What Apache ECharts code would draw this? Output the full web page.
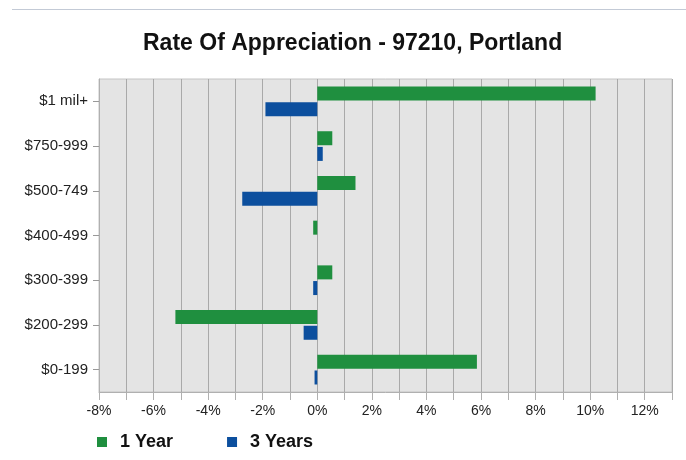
<!DOCTYPE html>
<html>
<head>
<meta charset="utf-8">
<script src="https://cdn.jsdelivr.net/npm/echarts@6/dist/echarts.min.js"></script>
<style>html,body{margin:0;padding:0;background:#fff}#c{width:686px;height:460px}</style>
</head>
<body>
<div id="c"></div>
<script>
var categories = ['$1 mil+', '$750-999', '$500-749', '$400-499', '$300-399', '$200-299', '$0-199'];
var oneYear = [10.2, 0.55, 1.4, -0.15, 0.55, -5.2, 5.85];
var threeYears = [-1.9, 0.2, -2.75, 0, -0.15, -0.5, -0.1];
var seriesNames = ['1 Year', '3 Years'];
var chart = echarts.init(document.getElementById('c'), null, {renderer: 'canvas'});
chart.setOption({
  animation: false,
  backgroundColor: '#ffffff',
  title: {
    text: 'Rate Of Appreciation - 97210, Portland',
    left: 138, top: 27,
    textStyle: {fontFamily: 'Arial, Liberation Sans', fontSize: 23, fontWeight: 'bold', color: '#111'}
  },
  graphic: [{
    type: 'line', shape: {x1: 12, y1: 9.5, x2: 686, y2: 9.5},
    style: {stroke: '#c3cad6', lineWidth: 1}
  }],
  legend: {
    left: 92, top: 428,
    itemWidth: 10, itemHeight: 10, itemGap: 54,
    icon: 'rect',
    textStyle: {fontFamily: 'Arial, Liberation Sans', fontSize: 18, fontWeight: 'bold', color: '#111', padding: [0, 0, 0, 8]},
    data: seriesNames
  },
  grid: {
    left: 99, right: 14, top: 79, bottom: 68,
    show: true, backgroundColor: '#e4e4e4', borderColor: '#c4c4c4', borderWidth: 1
  },
  xAxis: {
    type: 'value', min: -8, max: 13, interval: 1,
    axisLine: {show: true, onZero: false, lineStyle: {color: '#b0b0b0'}},
    axisTick: {show: true, length: 8, lineStyle: {color: '#b0b0b0'}},
    splitLine: {show: true, lineStyle: {color: '#a9a9a9', width: 1}},
    axisLabel: {
      margin: 12,
      fontFamily: 'Arial, Liberation Sans', fontSize: 14, color: '#222',
      formatter: function (v) { return (Math.round(v) % 2 === 0) ? v + '%' : ''; }
    }
  },
  yAxis: {
    type: 'category', data: categories, inverse: true,
    axisLine: {show: true, onZero: false, lineStyle: {color: '#b0b0b0'}},
    axisTick: {show: true, alignWithLabel: true, length: 6, lineStyle: {color: '#999'}},
    axisLabel: {margin: 11, fontFamily: 'Arial, Liberation Sans', fontSize: 15, color: '#222'},
    splitLine: {show: false}
  },
  series: [
    {name: seriesNames[0], type: 'bar', data: oneYear, barWidth: 14, barGap: '12%', itemStyle: {color: '#1f8f3f'}},
    {name: seriesNames[1], type: 'bar', data: threeYears, barWidth: 14, itemStyle: {color: '#0c4f9e'}}
  ]
});
</script>
</body>
</html>
